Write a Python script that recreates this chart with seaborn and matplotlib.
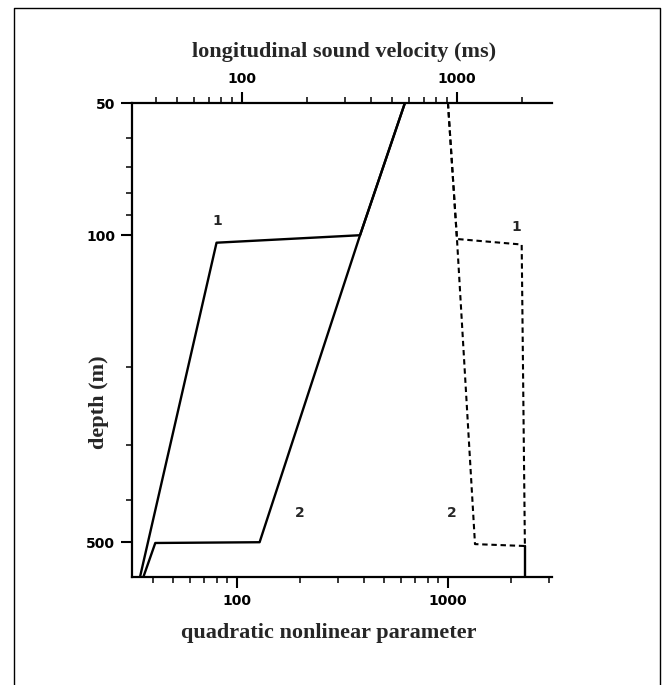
import numpy as np
import pandas as pd
import seaborn as sns
import matplotlib.pyplot as plt
from matplotlib.ticker import LogLocator, FixedLocator, NullFormatter, FixedFormatter
from matplotlib.lines import Line2D

# solid curves: quadratic nonlinear parameter vs depth (bottom axis)
depth_p1 = [50, 100, 104, 600]
param_p1 = [625, 383, 80, 34.7]
depth_p2 = [50, 100, 500, 502, 600]
param_p2 = [625, 383, 128, 41, 36]

# dashed curves: longitudinal sound velocity vs depth (top axis)
depth_v1 = [50, 102, 105, 510]
vel_v1 = [908, 1000, 2000, 2070]
depth_v2 = [50, 102, 505, 510]
vel_v2 = [908, 1000, 1213, 2070]
depth_v_deep = [510, 600]
vel_v_deep = [2070, 2070]

x_ticks = [100, 1000]
x_ticklabels = ["100", "1000"]
y_ticks = [50, 100, 500]
y_ticklabels = ["50", "100", "500"]

sns.set_style("ticks")
plt.rcParams['font.family'] = ['DejaVu Sans']

fig = plt.figure(figsize=(6.65, 6.85), dpi=100)
ax = fig.add_axes([132/665, 1-577/685, 420/665, 474/685])

sns.lineplot(x=param_p1, y=depth_p1, sort=False, estimator=None, color="black", lw=1.7, ax=ax)
sns.lineplot(x=param_p2, y=depth_p2, sort=False, estimator=None, color="black", lw=1.7, ax=ax)
ax.set_xscale("log")
ax.set_yscale("log")
ax.set_xlim(31.8, 3112)
ax.set_ylim(600, 50)

ax2 = ax.twiny()
dash = (0, (2.6, 1.8))
sns.lineplot(x=vel_v1, y=depth_v1, sort=False, estimator=None, color="black", lw=1.5, ax=ax2, linestyle=dash)
sns.lineplot(x=vel_v2, y=depth_v2, sort=False, estimator=None, color="black", lw=1.5, ax=ax2, linestyle=dash)
sns.lineplot(x=vel_v_deep, y=depth_v_deep, sort=False, estimator=None, color="black", lw=1.7, ax=ax2)
ax2.set_xscale("log")
ax2.set_xlim(30.8, 2767)

for s in ["right", "top"]:
    ax.spines[s].set_visible(False)
for s in ["right", "left", "bottom"]:
    ax2.spines[s].set_visible(False)
for a in (ax, ax2):
    for sp in a.spines.values():
        sp.set_linewidth(1.6)
        sp.set_color("black")

tick_font = dict(family="DejaVu Sans", weight="bold", size=10)
for a in (ax, ax2):
    a.xaxis.set_major_locator(FixedLocator(x_ticks))
    a.xaxis.set_major_formatter(FixedFormatter(x_ticklabels))
    a.xaxis.set_minor_locator(LogLocator(base=10, subs=np.arange(2, 10)))
    a.xaxis.set_minor_formatter(NullFormatter())
    for lab in a.get_xticklabels():
        lab.set_fontproperties(tick_font)
ax.yaxis.set_major_locator(FixedLocator(y_ticks))
ax.yaxis.set_major_formatter(FixedFormatter(y_ticklabels))
ax.yaxis.set_minor_locator(FixedLocator([60, 70, 80, 90, 200, 300, 400]))
ax.yaxis.set_minor_formatter(NullFormatter())
for lab in ax.get_yticklabels():
    lab.set_fontproperties(tick_font)

ax.tick_params(which="major", direction="out", length=8, width=1.5, pad=4, colors="black")
ax.tick_params(which="minor", direction="out", length=4, width=1.3)
ax2.tick_params(which="major", direction="out", length=8, width=1.5, pad=4, colors="black")
ax2.tick_params(which="minor", direction="out", length=4, width=1.3)
ax.set_xlabel("")
ax.set_ylabel("")

label_font = dict(family="Liberation Serif", weight="bold", size=16)
fig.text(344/665, 1-52/685, "longitudinal sound velocity (ms)", ha="center", va="center", **label_font)
fig.text(329/665, 1-633/685, "quadratic nonlinear parameter", ha="center", va="center", **label_font)
fig.text(99/665, 1-402/685, "depth (m)", ha="center", va="center", rotation=90, **label_font)

num_font = dict(family="DejaVu Sans", weight="bold", size=10)
ax.text(81, 93, "1", ha="center", va="center", **num_font)
ax.text(199, 429, "2", ha="center", va="center", **num_font)
ax2.text(1897, 96, "1", ha="center", va="center", **num_font)
ax2.text(944, 429, "2", ha="center", va="center", **num_font)

# outer frame of the figure
frame_x = [14/665, 14/665, 660/665, 660/665]
frame_y = [0.0, 1-8/685, 1-8/685, 0.0]
fig.add_artist(Line2D(frame_x, frame_y, transform=fig.transFigure, color="black", lw=1.0))

fig.savefig("out.png", dpi=100)
